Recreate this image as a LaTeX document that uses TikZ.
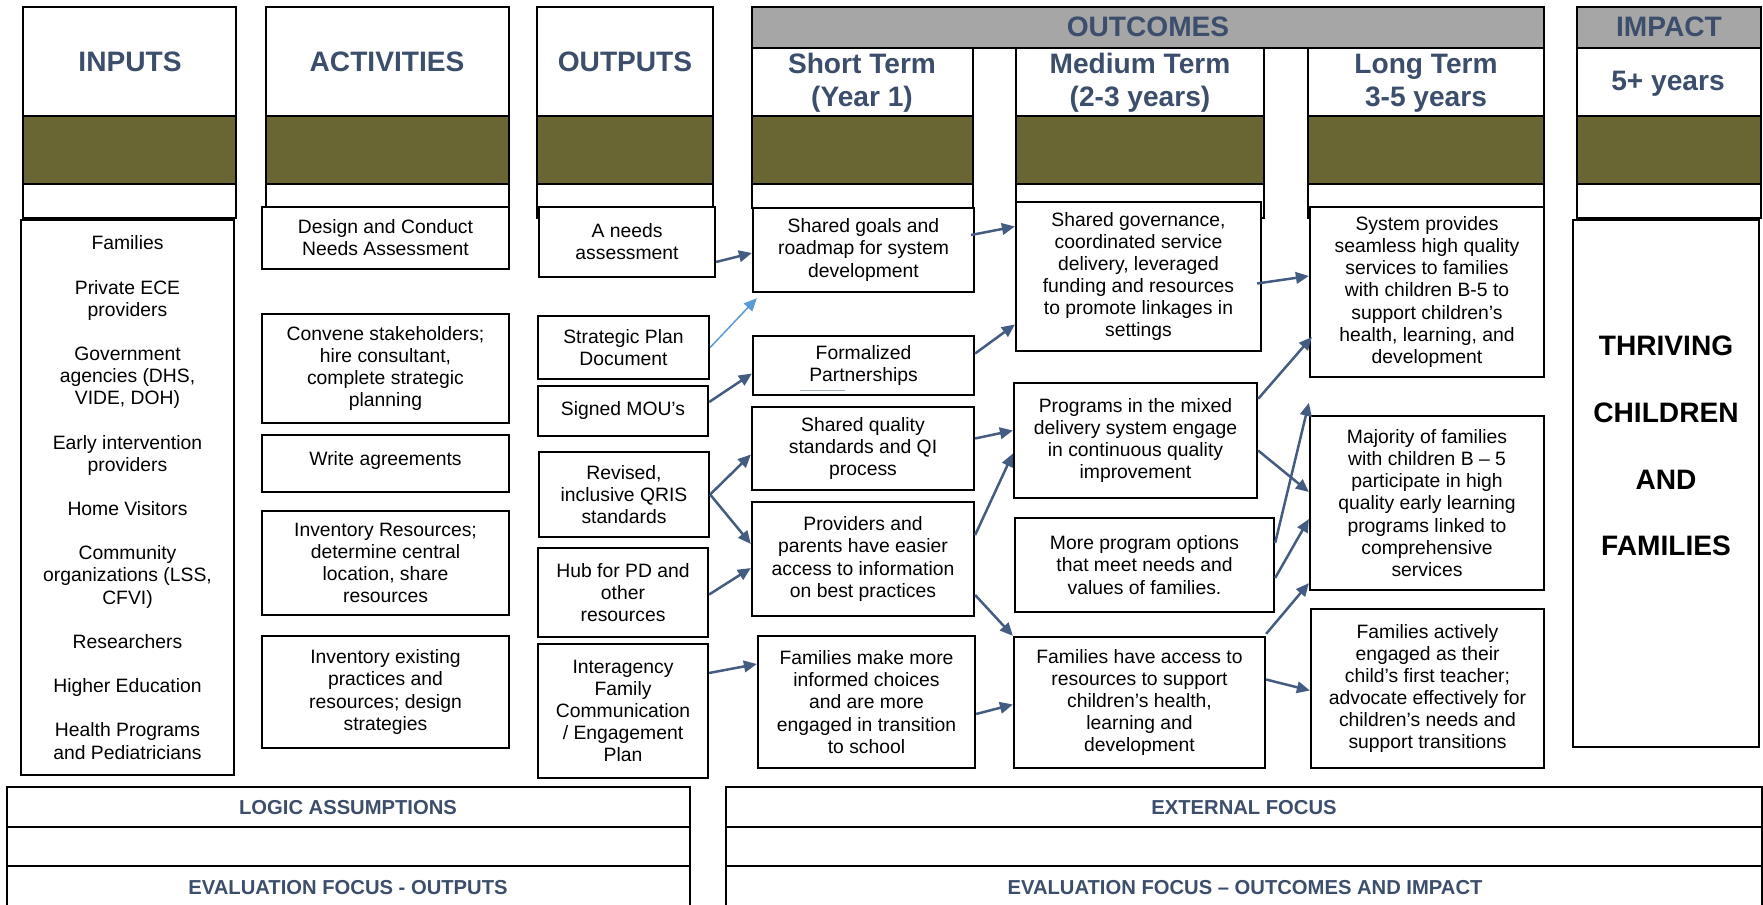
\documentclass[tikz,border=0pt]{standalone}
\usepackage{fontspec}
\setmainfont{Liberation Sans}
\usetikzlibrary{arrows.meta,calc}
\definecolor{headblue}{RGB}{60,78,108}
\definecolor{olivebar}{RGB}{106,102,52}
\definecolor{bandgray}{RGB}{166,166,166}
\definecolor{arrowblue}{RGB}{68,92,130}
\definecolor{lightarrow}{RGB}{91,155,213}
\begin{document}
\begin{tikzpicture}[x=0.2mm, y=-0.2mm,
    box/.style={draw, line width=0.45mm, fill=white, align=center, inner sep=0pt,
        font=\fontsize{11}{12.6}\selectfont},
    head/.style={align=center, text=headblue, font=\bfseries\fontsize{16}{19}\selectfont},
    band/.style={text=headblue, font=\bfseries\fontsize{11.5}{13}\selectfont},
    arr/.style={-{Triangle[length=2.6mm,width=2.3mm]}, line width=0.5mm, arrowblue},
    hline/.style={line width=0.3mm}]
    \useasboundingbox (0,0) rectangle (1763,905);

    \foreach \xa/\xb/\ya/\yb in {23/236/7/218, 266/509/7/207, 537/713/7/218,
        752/973/48/208, 1016/1264/48/218, 1308/1544/48/218, 1577/1761/48/218}{
        \draw[hline] (\xa,\ya) rectangle (\xb,\yb);
        \filldraw[hline, fill=olivebar] (\xa,116) rectangle (\xb,184);
    }
    \filldraw[hline, fill=bandgray] (752,7) rectangle (1544,48);
    \filldraw[hline, fill=bandgray] (1577,7) rectangle (1761,48);

    \node[head, anchor=base] (inputs) at (130,72) {INPUTS};
    \node[head, anchor=base] (activities) at (387,72) {ACTIVITIES};
    \node[head, anchor=base] (outputs) at (625,72) {OUTPUTS};
    \node[head, anchor=base] (outcomes) at (1148,37) {OUTCOMES};
    \node[head, anchor=base] (impact) at (1669,37) {IMPACT};
    \node[head] (short) at (862,83) {Short Term\\(Year 1)};
    \node[head] (medium) at (1140,83) {Medium Term\\(2-3 years)};
    \node[head] (long) at (1426,83) {Long Term\\3-5 years};
    \node[head, anchor=base] (fiveplus) at (1668,91) {5+ years};

    \node[box, minimum width=42.6mm, minimum height=111mm] (inlist) at (127.5,497.5)
        {Families\\[12.6pt]Private ECE\\providers\\[12.6pt]Government\\agencies (DHS,\\VIDE, DOH)\\[12.6pt]Early intervention\\providers\\[12.6pt]Home Visitors\\[12.6pt]Community\\organizations (LSS,\\CFVI)\\[12.6pt]Researchers\\[12.6pt]Higher Education\\[12.6pt]Health Programs\\and Pediatricians};

    \node[box, minimum width=49.4mm, minimum height=12.4mm] (design) at (385.5,238) {Design and Conduct\\Needs Assessment};
    \node[box, minimum width=49.4mm, minimum height=21.8mm] (convene) at (385.5,368.5) {Convene stakeholders;\\hire consultant,\\complete strategic\\planning};
    \node[box, minimum width=49.4mm, minimum height=11.4mm, text depth=2.2mm] (agree) at (385.5,463.5) {Write agreements};
    \node[box, minimum width=49.4mm, minimum height=20.8mm] (invres) at (385.5,563) {Inventory Resources;\\determine central\\location, share\\resources};
    \node[box, minimum width=49.4mm, minimum height=22.4mm] (invex) at (385.5,692) {Inventory existing\\practices and\\resources; design\\strategies};

    \node[box, minimum width=35.2mm, minimum height=14mm] (needs) at (627,242) {A needs\\assessment};
    \node[box, minimum width=34.2mm, minimum height=12.6mm] (plan) at (623.5,347.5) {Strategic Plan\\Document};
    \node[box, minimum width=34mm, minimum height=10mm] (mou) at (623,411) {Signed MOU’s};
    \node[box, minimum width=34mm, minimum height=17mm] (qris) at (624,494.5) {Revised,\\inclusive QRIS\\standards};
    \node[box, minimum width=34mm, minimum height=17.8mm] (hub) at (623,592.5) {Hub for PD and\\other\\resources};
    \node[box, minimum width=34mm, minimum height=26.8mm] (interag) at (623,711) {Interagency\\Family\\Communication\\/ Engagement\\Plan};

    \node[box, minimum width=44.2mm, minimum height=16.8mm] (goals) at (863.5,250) {Shared goals and\\roadmap for system\\development};
    \node[box, minimum width=44.2mm, minimum height=11.8mm] (formal) at (863.5,365.5) {Formalized\\Partnerships};
    \node[box, minimum width=44.4mm, minimum height=16.6mm] (quality) at (863,448.5) {Shared quality\\standards and QI\\process};
    \node[box, minimum width=44.4mm, minimum height=22.8mm] (providers) at (863,559) {Providers and\\parents have easier\\access to information\\on best practices};
    \node[box, minimum width=43.4mm, minimum height=26.4mm] (famchoice) at (866.5,702) {Families make more\\informed choices\\and are more\\engaged in transition\\to school};

    \node[box, minimum width=49mm, minimum height=29.8mm] (govern) at (1138.5,276.5) {Shared governance,\\coordinated service\\delivery, leveraged\\funding and resources\\to promote linkages in\\settings};
    \node[box, minimum width=48.6mm, minimum height=23mm] (programs) at (1135.5,440.5) {Programs in the mixed\\delivery system engage\\in continuous quality\\improvement};
    \node[box, minimum width=51.8mm, minimum height=18.8mm] (options) at (1144.5,565) {More program options\\that meet needs and\\values of families.};
    \node[box, minimum width=50.2mm, minimum height=26.2mm] (famaccess) at (1139.5,702.5) {Families have access to\\resources to support\\children’s health,\\learning and\\development};

    \node[box, minimum width=46.8mm, minimum height=34mm] (system) at (1427,292) {System provides\\seamless high quality\\services to families\\with children B-5 to\\support children’s\\health, learning, and\\development};
    \node[box, minimum width=46.8mm, minimum height=34.8mm] (majority) at (1427,503) {Majority of families\\with children B – 5\\participate in high\\quality early learning\\programs linked to\\comprehensive\\services};
    \node[box, minimum width=46.6mm, minimum height=31.8mm] (actively) at (1427.5,688.5) {Families actively\\engaged as their\\child’s first teacher;\\advocate effectively for\\children’s needs and\\support transitions};

    \node[box, minimum width=37.2mm, minimum height=105.4mm] (impactbox) at (1666,483.5) {};
    \node[align=center, font=\bfseries\fontsize{16}{38}\selectfont] (thriving) at (1666,446) {THRIVING\\CHILDREN\\AND\\FAMILIES};

    \draw[line width=0.2mm, arrowblue!50] (800,391) -- (845,391);

    \draw[line width=0.45mm] (7,787) rectangle (690,827) (7,827) rectangle (690,866) (7,866) rectangle (690,910);
    \draw[line width=0.45mm] (726,787) rectangle (1762,827) (726,827) rectangle (1762,866) (726,866) rectangle (1762,910);
    \node[band] (logic) at (348,808) {LOGIC ASSUMPTIONS};
    \node[band] (evalout) at (348,888) {EVALUATION FOCUS - OUTPUTS};
    \node[band] (external) at (1244,808) {EXTERNAL FOCUS};
    \node[band] (evalimp) at (1245,888) {EVALUATION FOCUS – OUTCOMES AND IMPACT};

    \draw[arr] ($(needs.east)+(0,20)$) -- ($(goals.west)+(0,3)$);
    \draw[arr, lightarrow, line width=0.3mm] (plan.east) -- ($(goals.south west)+(5,5)$);
    \draw[arr] ($(mou.east)+(0,-9)$) -- ($(formal.west)+(0,8)$);
    \draw[arr] (qris.east) -- ($(quality.west)+(0,6)$);
    \draw[arr] (qris.east) -- ($(providers.west)+(0,-15)$);
    \draw[arr] ($(hub.east)+(0,2)$) -- ($(providers.west)+(0,9)$);
    \draw[arr] ($(interag.east)+(0,-38)$) -- ($(famchoice.west)+(0,-38)$);
    \draw[arr] ($(goals.east)+(-4,-15)$) -- ($(govern.west)+(0,-50)$);
    \draw[arr] ($(formal.east)+(0,-12)$) -- ($(govern.west)+(0,48)$);
    \draw[arr] ($(quality.east)+(0,-10)$) -- ($(programs.west)+(0,-10)$);
    \draw[arr] ($(providers.east)+(0,-24)$) -- ($(programs.west)+(0,13)$);
    \draw[arr] ($(providers.east)+(0,36)$) -- (famaccess.north west);
    \draw[arr] ($(famchoice.east)+(0,12)$) -- ($(famaccess.west)+(0,2)$);
    \draw[arr] ($(govern.east)+(-5,7)$) -- ($(system.west)+(0,-16)$);
    \draw[arr] ($(programs.north east)+(0,17)$) -- ($(system.west)+(3,45)$);
    \draw[arr] ($(programs.east)+(0,10)$) -- ($(majority.west)+(0,-11)$);
    \coordinate (gap) at ($(majority.north west)+(0,-12)$);
    \draw[arr] ($(options.east)+(0,-22)$) -- (gap);
    \draw[arr] ($(options.east)+(0,13)$) -- ($(majority.west)+(0,16)$);
    \draw[arr] ($(famaccess.north east)+(0,-2)$) -- ($(majority.south west)+(0,-8)$);
    \draw[arr] ($(famaccess.east)+(0,-23)$) -- ($(actively.west)+(0,2)$);
\end{tikzpicture}
\end{document}
